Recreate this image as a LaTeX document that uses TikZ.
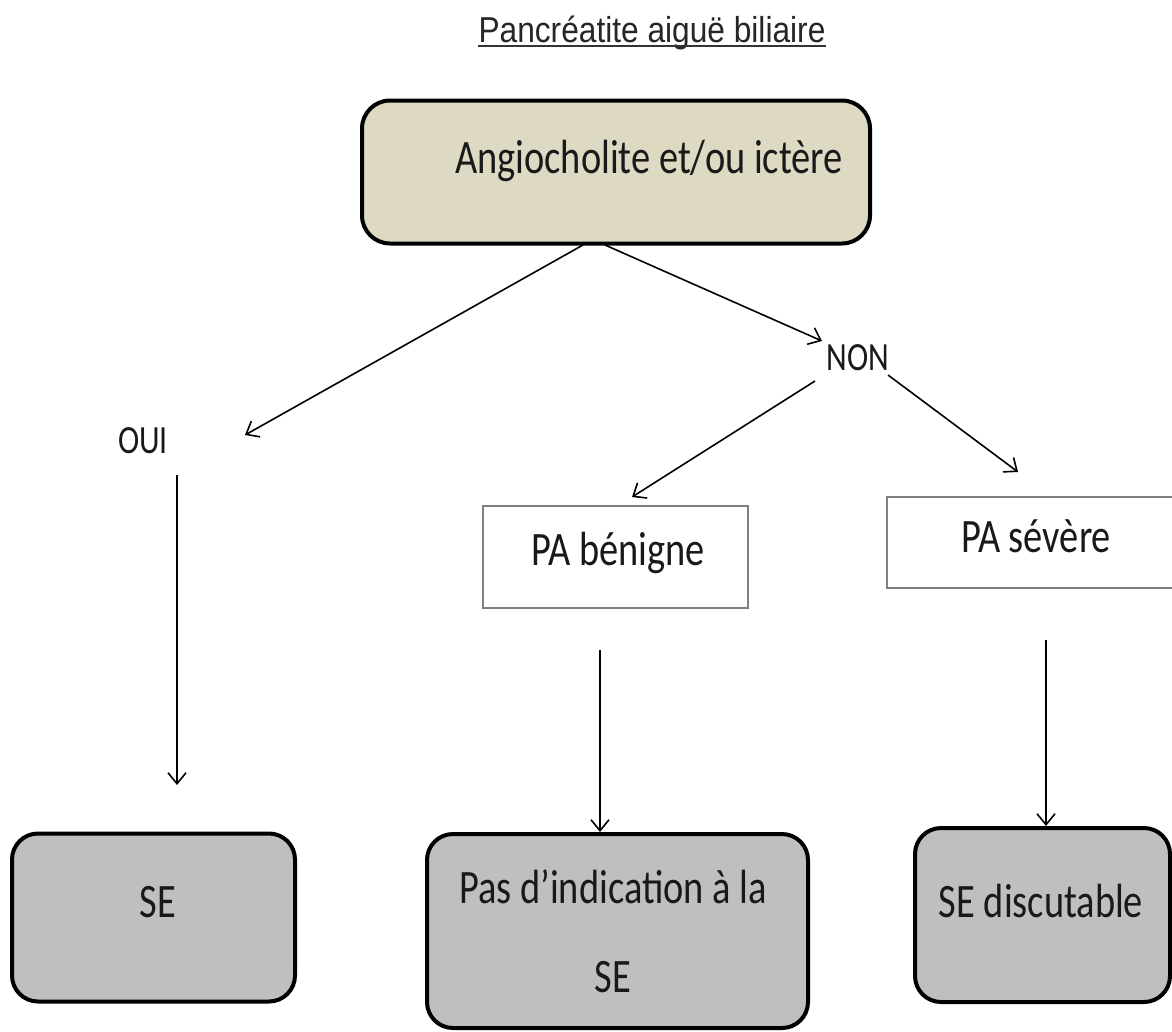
\documentclass[tikz,border=0pt]{standalone}
\usepackage{fontspec}
\setmainfont{Carlito}[FakeStretch=0.80]
\newfontfamily\titlefont{Liberation Sans}[FakeStretch=0.88]
\usetikzlibrary{arrows.meta}
\definecolor{tanfill}{HTML}{DDD9C3}
\definecolor{grayfill}{HTML}{BFBFBF}
\definecolor{thinborder}{HTML}{7F7F7F}
\tikzset{
  rbox/.style={draw=black, line width=4pt, rounded corners=28pt, rectangle, inner sep=0pt},
  pabox/.style={draw=thinborder, line width=1.6pt, rectangle, fill=white, inner sep=0pt},
  bigtxt/.style={inner sep=0pt, font=\fontsize{48}{89}\selectfont, text=black!90},
  smalltxt/.style={inner sep=0pt, font=\fontsize{40}{44}\selectfont, text=black!90},
  arr/.style={line width=1.6pt, -{Straight Barb[length=11pt,width=18pt,line width=1.6pt]}}
}
\begin{document}
\begin{tikzpicture}[x=1pt,y=-1pt]
\useasboundingbox[fill=white] (0,0) rectangle (1172,1031);

% title
\node[inner sep=0pt, anchor=base, font=\titlefont\fontsize{36}{40}\selectfont, text=black!85] (title) at (652,42) {Pancréatite aiguë biliaire};
\draw[line width=2pt, black!80] ([yshift=-4pt]title.base west) -- ([yshift=-4pt]title.base east);

% top box
\node[rbox, fill=tanfill, minimum width=508pt, minimum height=143pt] (top) at (616,172) {};
\node[bigtxt, anchor=base] (toptxt) at (649,173) {Angiocholite et/ou ictère};

% labels
\node[smalltxt, anchor=base] (non) at (858,370) {NON};
\node[smalltxt, anchor=base] (oui) at (143,453) {OUI};

% PA boxes
\node[pabox, minimum width=265pt, minimum height=102pt] (benigne) at (615.5,557) {};
\node[bigtxt, anchor=base] (benignetxt) at (618,565) {PA bénigne};
\node[pabox, minimum width=300pt, minimum height=91pt] (severe) at (1037,542.5) {};
\node[bigtxt, anchor=base] (severetxt) at (1036,552) {PA sévère};

% bottom boxes
\node[rbox, fill=grayfill, rounded corners=26pt, minimum width=283pt, minimum height=168pt] (se) at (153.5,917.5) {};
\node[bigtxt, anchor=base] (setxt) at (158,917) {SE};
\node[rbox, fill=grayfill, rounded corners=26pt, minimum width=381pt, minimum height=194pt] (pas) at (617.5,931) {};
\node[bigtxt, anchor=base, align=center] (pastxt) at (613,992) {Pas d’indication à la\\SE};
\node[rbox, fill=grayfill, rounded corners=26pt, minimum width=255pt, minimum height=174pt] (disc) at (1042.5,915) {};
\node[bigtxt, anchor=base] (disctxt) at (1041,917) {SE discutable};

% connector coordinates
\coordinate (a1s) at (583,245);
\coordinate (a1e) at (245,435);
\coordinate (a2s) at (605,245);
\coordinate (a2e) at (822,341);
\coordinate (a3s) at (815,381);
\coordinate (a3e) at (632,497);
\coordinate (a4s) at (888,375);
\coordinate (a4e) at (1018,472);
\coordinate (a5s) at (177,475);
\coordinate (a5e) at (177,785);
\coordinate (a6s) at (600,650);
\coordinate (a7s) at (1046,640);

\draw[arr] (a1s) -- (a1e);
\draw[arr] (a2s) -- (a2e);
\draw[arr] (a3s) -- (a3e);
\draw[arr] (a4s) -- (a4e);
\draw[arr] (a5s) -- (a5e);
\draw[arr] (a6s) -- (a6s |- pas.north);
\draw[arr] (a7s) -- (a7s |- disc.north);
\end{tikzpicture}
\end{document}
